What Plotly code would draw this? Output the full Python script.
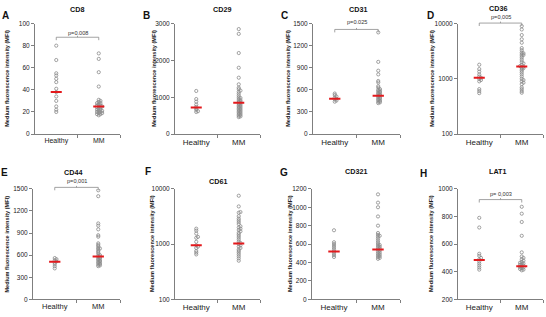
import math
import plotly.graph_objects as go

W, H = 546, 317

categories = ["Healthy", "MM"]
titles = ["CD8", "CD29", "CD31", "CD36", "CD44", "CD61", "CD321", "LAT1"]
letters = ["A", "B", "C", "D", "E", "F", "G", "H"]

cd8_healthy = [80, 67, 55, 53, 50, 47, 41, 38, 34, 30, 25, 22, 20]
cd8_mm = [73, 68, 56, 43, 31, 30, 29, 28, 28, 27, 26, 26, 25, 25, 24, 24, 23, 22,
          22, 21, 21, 20, 20, 19, 19, 18, 18, 17]
cd29_healthy = [1170, 950, 880, 800, 740, 700, 660, 620, 600]
cd29_mm = [2850, 2720, 2200, 1800, 1530, 1350, 1260, 1220, 1180, 1150, 1100, 1050,
           1000, 980, 950, 920, 900, 880, 860, 840, 820, 800, 780, 760, 740, 720,
           700, 680, 660, 640, 620, 600, 580, 560, 540, 520, 500, 480, 460]
cd31_healthy = [550, 530, 510, 495, 480, 470, 455, 440]
cd31_mm = [1380, 980, 860, 810, 720, 700, 650, 630, 610, 600, 590, 580, 570, 560,
           550, 540, 530, 520, 510, 500, 490, 480, 470, 460, 450, 440, 430, 420]
cd36_healthy = [1800, 1500, 1350, 1200, 1100, 1050, 1000, 950, 900, 650, 600, 550]
cd36_mm = [9000, 7800, 6200, 5200, 4500, 3600, 3300, 3000, 2900, 2800, 2700, 2600,
           2400, 2200, 2000, 1900, 1800, 1700, 1650, 1600, 1550, 1500, 1400, 1300,
           1200, 1100, 1000, 950, 900, 850, 800, 700, 650, 600, 560]
cd44_healthy = [560, 545, 530, 515, 500, 480, 450, 420]
cd44_mm = [1480, 1400, 1030, 1000, 950, 870, 850, 760, 740, 720, 700, 690, 680, 660,
           640, 620, 600, 590, 580, 570, 560, 550, 540, 530, 520, 510, 500, 490,
           480, 470, 460, 450]
cd61_healthy = [1900, 1750, 1550, 1350, 1300, 1100, 950, 900, 850, 750, 700, 650]
cd61_mm = [7500, 4800, 3800, 3700, 3200, 2900, 2700, 2500, 2300, 2100, 2000, 1900,
           1800, 1700, 1600, 1500, 1400, 1300, 1200, 1100, 1050, 1000, 950, 900,
           850, 800, 750, 700, 650, 600, 550, 500]
cd321_healthy = [750, 620, 600, 580, 560, 540, 520, 500, 480, 460]
cd321_mm = [1140, 1050, 1000, 900, 800, 720, 700, 690, 680, 660, 640, 620, 600, 590,
            580, 570, 560, 550, 540, 530, 520, 510, 500, 490, 480, 470, 460, 450, 440]
lat1_healthy = [790, 720, 530, 515, 500, 490, 475, 460, 445, 430, 415]
lat1_mm = [870, 820, 760, 660, 540, 510, 500, 490, 480, 470, 465, 460, 455, 450,
           445, 440, 435, 430, 425, 420, 415, 410]

median_healthy = [38, 720, 480, 1050, 510, 950, 520, 485]
median_mm = [25, 850, 520, 1670, 580, 1020, 540, 440]

healthy_groups = [cd8_healthy, cd29_healthy, cd31_healthy, cd36_healthy,
                  cd44_healthy, cd61_healthy, cd321_healthy, lat1_healthy]
mm_groups = [cd8_mm, cd29_mm, cd31_mm, cd36_mm, cd44_mm, cd61_mm, cd321_mm, lat1_mm]

y_ranges = [(0, 100), (0, 3000), (0, 1500), (100, 10000),
            (0, 1500), (100, 10000), (0, 1200), (200, 1000)]
y_ticks = [[0, 20, 40, 60, 80, 100], [0, 1000, 2000, 3000],
           [0, 300, 600, 900, 1200, 1500], [100, 1000, 10000],
           [0, 300, 600, 900, 1200, 1500], [100, 1000, 10000],
           [0, 200, 400, 600, 800, 1000, 1200], [200, 400, 600, 800, 1000]]
log_axes = [False, False, False, True, False, True, False, False]

p_labels = ["p=0.008", None, "p=0.025", "p=0,005", "p=0,001", None, None, "p= 0,003"]

# layout in pixels
plot_x = [(35, 120), (175, 260), (313, 400), (458, 543),
          (33, 120), (175, 260), (312, 400), (458, 543)]
plot_y = [(20, 133)] * 4 + [(189, 302)] * 4
title_pos = [(77, 6), (222, 6), (358, 6), (498, 5),
             (73, 172.5), (218, 182), (356, 171), (497, 171)]
letter_pos = [(5, 12), (146, 12), (284, 12), (430, 12),
              (4, 172), (148, 171), (284, 172), (423, 173)]
ytitle_x = [7, 154, 288, 432, 7.5, 152, 290, 431]
bracket_y = [34, None, 26, 19.5, 187.5, None, None, 200]
ptext_y = [30, None, 18, 13, 181.5, None, None, 194]
cat_font = [7, 8, 8, 8, 7.5, 8, 8, 8]

GRAY = "#7f7f7f"
FONT = "Liberation Sans, Arial, sans-serif"


def px_x(p):
    return p / W


def px_y(p):
    return 1 - p / H


def swarm(vals, to_px, px_per_unit, step=1.7, mind=1.5):
    order = sorted(range(len(vals)), key=lambda i: to_px(vals[i]))
    placed = []
    offs = [0.0] * len(vals)
    cands = [0.0]
    for k in range(1, 4):
        cands += [k * step, -k * step]
    for i in order:
        y = to_px(vals[i])
        best, bestd = 0.0, -1
        chosen = None
        for c in cands:
            dmin = min([math.hypot(c - px, y - py) for py, px in placed] or [99])
            if dmin >= mind:
                chosen = c
                break
            if dmin > bestd:
                best, bestd = c, dmin
        if chosen is None:
            chosen = best
        placed.append((y, chosen))
        offs[i] = chosen / px_per_unit
    return offs


fig = go.Figure()
annotations = []
shapes = []

for k in range(8):
    ax = "" if k == 0 else str(k + 1)
    xa, ya = "x" + ax, "y" + ax
    x0, x1 = plot_x[k]
    yt, yb = plot_y[k]
    lo, hi = y_ranges[k]
    hpx = yb - yt
    px_per_unit = (x1 - x0) / 2.0
    if log_axes[k]:
        def to_px(v, lo=lo, hi=hi, hpx=hpx):
            return (math.log10(v) - math.log10(lo)) / (math.log10(hi) - math.log10(lo)) * hpx
    else:
        def to_px(v, lo=lo, hi=hi, hpx=hpx):
            return (v - lo) / (hi - lo) * hpx

    for ci, grp in enumerate([healthy_groups[k], mm_groups[k]]):
        offs = swarm(grp, to_px, px_per_unit)
        fig.add_trace(go.Scatter(
            x=[ci + o for o in offs], y=grp, mode="markers",
            marker=dict(symbol="circle-open", size=3.2, color="#8a8a8a",
                        line=dict(width=0.8)),
            xaxis=xa, yaxis=ya, showlegend=False, hoverinfo="skip"))
    meds = [median_healthy[k], median_mm[k]]
    for ci in range(2):
        fig.add_trace(go.Scatter(
            x=[ci - 0.13, ci + 0.13], y=[meds[ci], meds[ci]], mode="lines",
            line=dict(color="#e3191c", width=2), xaxis=xa, yaxis=ya,
            showlegend=False, hoverinfo="skip"))

    if log_axes[k]:
        yrange = [math.log10(lo), math.log10(hi)]
        ytype = "log"
    else:
        yrange = [lo, hi]
        ytype = "linear"

    fig.update_layout(**{
        ("xaxis" + ax): dict(
            domain=[px_x(x0), px_x(x1)], range=[-0.5, 1.5], anchor=ya,
            tickmode="array", tickvals=[0, 1], ticktext=categories,
            ticks="", showline=True, linecolor=GRAY, linewidth=1,
            showgrid=False, zeroline=False,
            tickfont=dict(size=cat_font[k], color="#222", family=FONT),
            minor=dict(tickmode="array", tickvals=[0.5, 1.5], ticks="outside",
                       ticklen=3, tickcolor=GRAY, tickwidth=1, showgrid=False),
            fixedrange=True),
        ("yaxis" + ax): dict(
            domain=[px_y(yb), px_y(yt)], range=yrange, type=ytype, anchor=xa,
            tickmode="array", tickvals=y_ticks[k],
            ticktext=[str(t) for t in y_ticks[k]],
            ticks="outside", ticklen=3, tickcolor=GRAY, tickwidth=1,
            showline=True, linecolor=GRAY, linewidth=1,
            showgrid=False, zeroline=False,
            tickfont=dict(size=6.5, color="#222", family=FONT),
            fixedrange=True),
    })

    annotations.append(dict(
        text="<b>%s</b>" % titles[k], x=px_x(title_pos[k][0]), y=px_y(title_pos[k][1]),
        xref="paper", yref="paper", showarrow=False, xanchor="center", yanchor="middle",
        font=dict(size=7.2, color="#111", family=FONT)))
    annotations.append(dict(
        text="<b>%s</b>" % letters[k], x=px_x(letter_pos[k][0]), y=px_y(letter_pos[k][1]),
        xref="paper", yref="paper", showarrow=False, xanchor="center", yanchor="middle",
        font=dict(size=10, color="#111", family=FONT)))
    annotations.append(dict(
        text="<b>Medium fluorescence intensity (MFI)</b>",
        x=px_x(ytitle_x[k]), y=px_y((yt + yb) / 2), textangle=-90,
        xref="paper", yref="paper", showarrow=False, xanchor="center", yanchor="middle",
        font=dict(size=5.6, color="#222", family=FONT)))

    if p_labels[k]:
        by = bracket_y[k]
        for (xa0, ya0, xa1, ya1) in [(0, by + 3, 0, by), (0, by, 1, by),
                                     (1, by, 1, by + 3), (0.5, by, 0.5, by - 1.5)]:
            shapes.append(dict(type="line", xref=xa, yref="paper",
                               x0=xa0, x1=xa1, y0=px_y(ya0), y1=px_y(ya1),
                               line=dict(color="#8c8c8c", width=0.8)))
        annotations.append(dict(
            text=p_labels[k], x=0.5, y=px_y(ptext_y[k]), xref=xa, yref="paper",
            showarrow=False, xanchor="center", yanchor="middle",
            font=dict(size=5.6, color="#333", family=FONT)))

fig.update_layout(
    width=W, height=H, margin=dict(l=0, r=0, t=0, b=0),
    paper_bgcolor="white", plot_bgcolor="white",
    annotations=annotations, shapes=shapes, showlegend=False,
    font=dict(family=FONT))

fig.write_html("out.html", config={"displayModeBar": False})
